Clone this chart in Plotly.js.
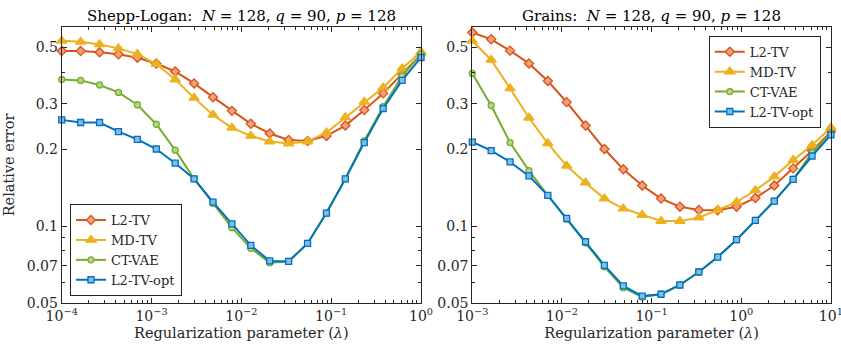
<!DOCTYPE html>
<html>
<head>
<meta charset="utf-8">
<script src="https://cdn.plot.ly/plotly-3.0.1.min.js"></script>
<style>html,body{margin:0;padding:0;background:#fff;}#chart{width:841px;height:352px;}</style>
</head>
<body>
<div id="chart"></div>
<script>
// Regularization parameter values (20 log-spaced samples per panel)
const lambdaShepp = [1.000e-4,1.624e-4,2.637e-4,4.281e-4,6.952e-4,1.129e-3,1.833e-3,2.976e-3,4.833e-3,7.848e-3,1.274e-2,2.069e-2,3.360e-2,5.456e-2,8.859e-2,0.1438,0.2336,0.3793,0.6158,1.0];
const lambdaGrains = [1.000e-3,1.624e-3,2.637e-3,4.281e-3,6.952e-3,1.129e-2,1.833e-2,2.976e-2,4.833e-2,7.848e-2,0.1274,0.2069,0.3360,0.5456,0.8859,1.438,2.336,3.793,6.158,10.0];

const seriesNames = ["L2-TV","MD-TV","CT-VAE","L2-TV-opt"];

// Shepp-Logan panel
const sheppL2TV   = [0.483,0.483,0.478,0.469,0.455,0.432,0.402,0.361,0.319,0.282,0.251,0.230,0.217,0.215,0.225,0.247,0.284,0.330,0.393,0.469];
const sheppMDTV   = [0.530,0.525,0.513,0.495,0.470,0.430,0.374,0.317,0.272,0.242,0.225,0.214,0.210,0.214,0.232,0.266,0.306,0.348,0.413,0.480];
const sheppCTVAE  = [0.374,0.371,0.356,0.333,0.298,0.250,0.198,0.153,0.1227,0.0985,0.0818,0.0719,0.0727,0.0855,0.1124,0.153,0.215,0.293,0.386,0.470];
const sheppL2opt  = [0.260,0.254,0.254,0.234,0.218,0.200,0.176,0.153,0.124,0.102,0.084,0.073,0.0727,0.0855,0.1124,0.153,0.212,0.288,0.371,0.456];

// Grains panel
const grainsL2TV  = [0.571,0.537,0.485,0.432,0.369,0.305,0.247,0.200,0.1666,0.144,0.128,0.119,0.1155,0.1152,0.119,0.1287,0.144,0.168,0.197,0.234];
const grainsMDTV  = [0.530,0.446,0.345,0.265,0.2105,0.172,0.1477,0.128,0.117,0.1104,0.1046,0.1046,0.1078,0.1155,0.124,0.138,0.156,0.181,0.207,0.243];
const grainsCTVAE = [0.395,0.296,0.212,0.1646,0.1318,0.1063,0.086,0.0693,0.0574,0.0528,0.0541,0.0588,0.0661,0.0756,0.0884,0.1052,0.1252,0.1522,0.1935,0.2316];
const grainsL2opt = [0.213,0.197,0.178,0.157,0.1318,0.1071,0.0868,0.0702,0.0583,0.0532,0.0541,0.0588,0.0661,0.0756,0.0884,0.1052,0.1252,0.1522,0.1878,0.227];

const yTickVals = [0.05,0.07,0.1,0.2,0.3,0.5];
const yTickText = ["0.05","0.07","0.1","0.2","0.3","0.5"];
const yMinorVals = [0.06,0.08,0.09,0.4,0.6];
const xTickValsShepp = [1e-4,1e-3,1e-2,1e-1,1];
const xTickTextShepp = ["10<sup>−4</sup>","10<sup>−3</sup>","10<sup>−2</sup>","10<sup>−1</sup>","10<sup>0</sup>"];
const xTickValsGrains = [1e-3,1e-2,1e-1,1,10];
const xTickTextGrains = ["10<sup>−3</sup>","10<sup>−2</sup>","10<sup>−1</sup>","10<sup>0</sup>","10<sup>1</sup>"];
const minorMantissas = [2,3,4,5,6,7,8,9];

function minorTicks(decades) {
  const out = [];
  decades.forEach(d => minorMantissas.forEach(m => out.push(m * d)));
  return out;
}

const colors = ["#D95319","#EDB120","#77AC30","#0072BD"];
const fills  = ["#F0A07A","#EDB120","#B4D68A","#7FBDE8"];
const symbols = ["diamond","triangle-up","circle","square"];
const sizes = [7,9,6,6];

function mk(x, y, i, xa, ya, leg) {
  return {
    x: x, y: y, type: "scatter", mode: "lines+markers", name: seriesNames[i],
    xaxis: xa, yaxis: ya, legend: leg, cliponaxis: false,
    line: {color: colors[i], width: 2},
    marker: {symbol: symbols[i], size: sizes[i], color: fills[i], line: {color: colors[i], width: 1.3}}
  };
}

const data = [
  mk(lambdaShepp, sheppL2TV, 0, "x", "y", "legend"),
  mk(lambdaShepp, sheppMDTV, 1, "x", "y", "legend"),
  mk(lambdaShepp, sheppCTVAE, 2, "x", "y", "legend"),
  mk(lambdaShepp, sheppL2opt, 3, "x", "y", "legend"),
  mk(lambdaGrains, grainsL2TV, 0, "x2", "y2", "legend2"),
  mk(lambdaGrains, grainsMDTV, 1, "x2", "y2", "legend2"),
  mk(lambdaGrains, grainsCTVAE, 2, "x2", "y2", "legend2"),
  mk(lambdaGrains, grainsL2opt, 3, "x2", "y2", "legend2")
];

const fontFam = "DejaVu Serif, Liberation Serif, serif";
const ink = "#262626";
function ax(extra, minorVals) {
  return Object.assign({
    type: "log", showgrid: false, zeroline: false, showline: true, mirror: "allticks",
    linecolor: ink, linewidth: 1, ticks: "inside", ticklen: 5, tickcolor: ink, tickwidth: 1,
    ticklabeloverflow: "allow",
    tickfont: {family: fontFam, size: 14, color: ink},
    minor: {tickmode: "array", tickvals: minorVals, ticks: "inside", ticklen: 3, tickcolor: ink, tickwidth: 1, showgrid: false}
  }, extra);
}
const yRange = [Math.log10(0.05), Math.log10(0.6)];
const axTitleFont = {family: fontFam, size: 14.5, color: ink};

const layout = {
  width: 841, height: 352,
  margin: {l: 0, r: 0, t: 27, b: 49},
  paper_bgcolor: "#fff", plot_bgcolor: "#fff",
  font: {family: fontFam, color: ink},
  showlegend: true,
  xaxis: ax({domain: [0.0734, 0.5006], range: [-4, 0], tickvals: xTickValsShepp, ticktext: xTickTextShepp,
    title: {text: "Regularization parameter (<i>λ</i>)", font: axTitleFont, standoff: 5}},
    minorTicks([1e-4,1e-3,1e-2,1e-1])),
  yaxis: ax({domain: [0, 1], range: yRange, tickvals: yTickVals, ticktext: yTickText,
    title: {text: "Relative error", font: axTitleFont, standoff: 8}}, yMinorVals),
  xaxis2: ax({domain: [0.5616, 0.988], range: [-3, 1], anchor: "y2", tickvals: xTickValsGrains, ticktext: xTickTextGrains,
    title: {text: "Regularization parameter (<i>λ</i>)", font: axTitleFont, standoff: 5}},
    minorTicks([1e-3,1e-2,1e-1,1])),
  yaxis2: ax({domain: [0, 1], range: yRange, anchor: "x2", tickvals: yTickVals, ticktext: yTickText}, yMinorVals),
  legend: {x: 0.0832, y: 0.025, xanchor: "left", yanchor: "bottom", bgcolor: "#fff", bordercolor: ink, borderwidth: 1,
    font: {family: fontFam, size: 13, color: ink}, tracegroupgap: 0, itemwidth: 30},
  legend2: {x: 0.976, y: 0.968, xanchor: "right", yanchor: "top", bgcolor: "#fff", bordercolor: ink, borderwidth: 1,
    font: {family: fontFam, size: 13, color: ink}, tracegroupgap: 0, itemwidth: 30},
  annotations: [
    {text: "Shepp-Logan:  <i>N</i> = 128, <i>q</i> = 90, <i>p</i> = 128", xref: "paper", yref: "paper", x: 0.287, xanchor: "center", y: 1, yanchor: "bottom", yshift: 0, showarrow: false,
      font: {family: fontFam, size: 15, color: "#000"}},
    {text: "Grains:  <i>N</i> = 128, <i>q</i> = 90, <i>p</i> = 128", xref: "paper", yref: "paper", x: 0.775, xanchor: "center", y: 1, yanchor: "bottom", yshift: 0, showarrow: false,
      font: {family: fontFam, size: 15, color: "#000"}}
  ]
};

Plotly.newPlot("chart", data, layout, {displayModeBar: false, staticPlot: true});
</script>
</body>
</html>
